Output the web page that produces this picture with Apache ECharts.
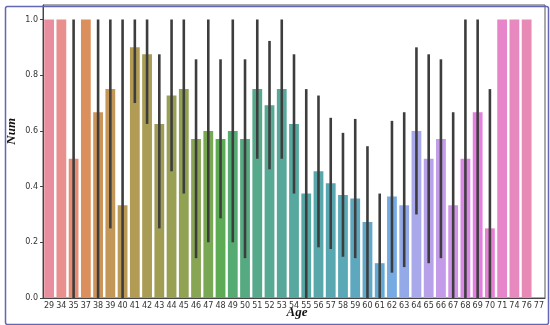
<!DOCTYPE html>
<html>
<head>
<meta charset="utf-8">
<script src="https://cdn.jsdelivr.net/npm/echarts@6/dist/echarts.min.js"></script>
<style>
html,body{margin:0;padding:0;background:#fff;}
#c{width:550px;height:325px;}
</style>
</head>
<body>
<div id="c"></div>
<script>
var ages = [29,34,35,37,38,39,40,41,42,43,44,45,46,47,48,49,50,51,52,53,54,55,56,57,58,59,60,61,62,63,64,65,66,67,68,69,70,71,74,76,77];
var means = [1,1,0.5,1,0.667,0.75,0.333,0.9,0.875,0.625,0.727,0.75,0.571,0.6,0.571,0.6,0.571,0.75,0.692,0.75,0.625,0.375,0.455,0.412,0.37,0.357,0.273,0.125,0.364,0.333,0.6,0.5,0.571,0.333,0.5,0.667,0.25,1,1,1,0];
var ciLow = [null,null,0,null,0,0.25,0,0.7,0.625,0.25,0.455,0.375,0.143,0.2,0.286,0.2,0.143,0.5,0.462,0.5,0.375,0,0.182,0.176,0.148,0.143,0,0,0.091,0.111,0.3,0.125,0.143,0,0,0,0,null,null,null,null];
var ciHigh = [null,null,1,null,1,1,1,1,1,0.875,1,1,0.857,1,0.857,1,0.857,1,0.923,1,0.875,0.75,0.727,0.647,0.593,0.643,0.545,0.375,0.636,0.667,0.9,0.875,0.857,0.667,1,1,0.75,null,null,null,null];
var yTicks = [0,0.2,0.4,0.6,0.8,1.0];

// HUSL palette (seaborn style) with desaturation
var M = [[3.240969941904521,-1.537383177570093,-0.498610760293],[-0.96924363628087,1.87596750150772,0.041555057407175],[0.055630079696993,-0.20397695888897,1.056971514242878]];
var refU = 0.19783000664283, refV = 0.46831999493879, kappa = 903.2962962, eps = 0.0088564516;
function bounds(L){
  var sub1 = Math.pow(L+16,3)/1560896, sub2 = sub1>eps?sub1:L/kappa, res=[];
  for(var c=0;c<3;c++){var m1=M[c][0],m2=M[c][1],m3=M[c][2];
    for(var t=0;t<2;t++){
      var top1=(284517*m1-94839*m3)*sub2;
      var top2=(838422*m3+769860*m2+731718*m1)*L*sub2-769860*t*L;
      var bot=(632260*m3-126452*m2)*sub2+126452*t;
      res.push([top1/bot,top2/bot]);
    }}
  return res;
}
function maxC(L,H){var hr=H/360*Math.PI*2,mn=1e9;bounds(L).forEach(function(b){var len=b[1]/(Math.sin(hr)-b[0]*Math.cos(hr));if(len>=0)mn=Math.min(mn,len);});return mn;}
function fromLin(c){return c<=0.0031308?12.92*c:1.055*Math.pow(c,1/2.4)-0.055;}
function husl(H,S,L){
  var C=maxC(L,H)/100*S, hr=H/180*Math.PI, U=C*Math.cos(hr), V=C*Math.sin(hr);
  var vu=U/(13*L)+refU, vv=V/(13*L)+refV;
  var Y=L<=8?L/kappa:Math.pow((L+16)/116,3);
  var X=0-(9*Y*vu)/((vu-4)*vv-vu*vv);
  var Z=(9*Y-15*vv*Y-vv*X)/(3*vv);
  return M.map(function(r){return Math.min(1,Math.max(0,fromLin(r[0]*X+r[1]*Y+r[2]*Z)));});
}
function rgb2hls(r,g,b){var mx=Math.max(r,g,b),mn=Math.min(r,g,b),l=(mx+mn)/2,h=0,s=0;
  if(mx!==mn){var d=mx-mn;s=l>0.5?d/(2-mx-mn):d/(mx+mn);
    if(mx===r)h=((g-b)/d+(g<b?6:0));else if(mx===g)h=(b-r)/d+2;else h=(r-g)/d+4;h/=6;}
  return [h,l,s];}
function hue2rgb(p,q,t){if(t<0)t+=1;if(t>1)t-=1;if(t<1/6)return p+(q-p)*6*t;if(t<1/2)return q;if(t<2/3)return p+(q-p)*(2/3-t)*6;return p;}
function hls2rgb(h,l,s){if(s===0)return[l,l,l];var q=l<0.5?l*(1+s):l+s-l*s,p=2*l-q;return[hue2rgb(p,q,h+1/3),hue2rgb(p,q,h),hue2rgb(p,q,h-1/3)];}
var n = ages.length, colors=[];
for(var i=0;i<n;i++){
  var h=((i/n)+0.01)%1*359;
  var rgb=husl(h,90*0.99,65*0.99);
  var hls=rgb2hls(rgb[0],rgb[1],rgb[2]);
  var o=hls2rgb(hls[0],hls[1],hls[2]*0.75);
  // slight lightening to match washed-out reference
  o=o.map(function(v){return v*0.9+0.1;});
  colors.push('rgb('+o.map(function(v){return Math.round(v*255);}).join(',')+')');
}

var chart = echarts.init(document.getElementById('c'));
var errData = ages.map(function(a,i){return [i, ciLow[i], ciHigh[i]];}).filter(function(d){return d[1]!==null;});
chart.setOption({
  animation:false,
  grid:{left:43,top:5,right:5,bottom:27,show:true,borderColor:'#555',borderWidth:1,backgroundColor:'transparent'},
  xAxis:{type:'category',data:ages.map(String),
    axisLine:{lineStyle:{color:'#444'}},
    axisTick:{alignWithLabel:true,length:3,lineStyle:{color:'#444'}},
    axisLabel:{fontSize:8,color:'#333',margin:4,interval:0,fontFamily:'DejaVu Sans'}},
  yAxis:{type:'value',min:0,max:1.052,interval:0.2,
    splitLine:{show:false},
    axisLine:{show:true,lineStyle:{color:'#444'}},
    axisTick:{show:true,length:3,customValues:yTicks,lineStyle:{color:'#444'}},
    axisLabel:{fontSize:8,color:'#333',margin:5,customValues:yTicks,fontFamily:'DejaVu Sans',
      formatter:function(v){return v.toFixed(1);}}},
  series:[
    {type:'bar',data:means.map(function(v,i){return {value:v,itemStyle:{color:colors[i]}};}),
     barCategoryGap:'20%'},
    {type:'custom',data:errData,z:5,
     renderItem:function(params,api){
       var x=api.value(0),p1=api.coord([x,api.value(1)]),p2=api.coord([x,api.value(2)]);
       return {type:'line',shape:{x1:p1[0],y1:p1[1],x2:p2[0],y2:p2[1]},style:{stroke:'#3d3d3d',lineWidth:2.6}};
     }}
  ],
  graphic:[
    {type:'rect',left:3,top:4,shape:{width:543,height:318,r:2},style:{fill:'none',stroke:'#6366b3',lineWidth:1.5},z:100},
    {type:'text',left:5,top:118,rotation:Math.PI/2,style:{text:'Num',font:'italic bold 13px "Liberation Serif"',fill:'#111'},x:6,y:133},
    {type:'text',style:{text:'Age',font:'italic bold 13px "Liberation Serif"',fill:'#111',textAlign:'center',textVerticalAlign:'middle'},x:297,y:313}
  ]
});
</script>
</body>
</html>
